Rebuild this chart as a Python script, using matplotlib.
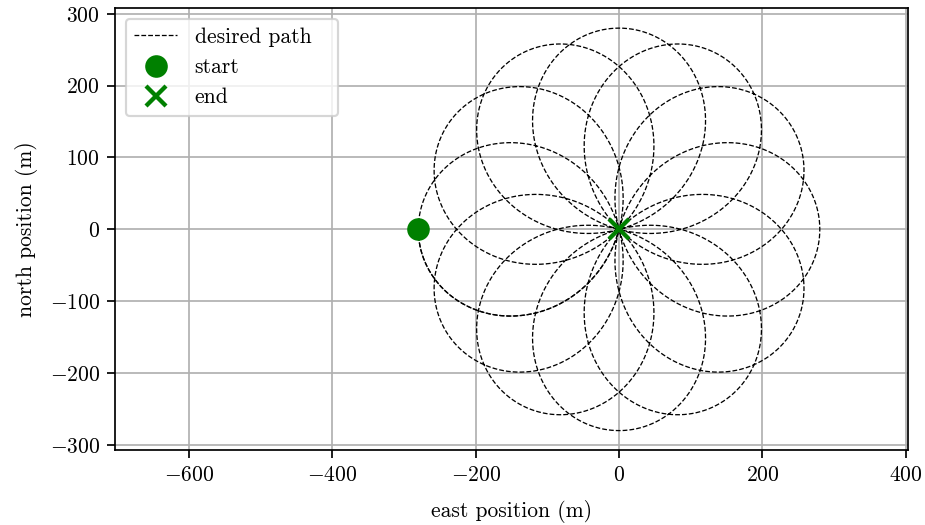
import numpy as np
import matplotlib
matplotlib.use("Agg")
import matplotlib.pyplot as plt

plt.rcParams["font.family"] = "serif"
plt.rcParams["font.serif"] = ["cmr10"]
plt.rcParams["mathtext.fontset"] = "cm"
plt.rcParams["axes.formatter.use_mathtext"] = True

# rose path r = a*cos(k*phi), k = p/q
a = 280.0
p, q = 6, 5
start = (-280.0, 0.0)
end = (0.0, 0.0)
xticks = [-600, -400, -200, 0, 200, 400]
yticks = [-300, -200, -100, 0, 100, 200, 300]

k = p / q
# one full period, then the last half petal back into the origin
phi = np.linspace(0, 2 * np.pi * q, 6000)
phi_end = np.linspace(2 * np.pi * q, 2 * np.pi * q + np.pi / (2 * k), 300)


def rose(t):
    r = a * np.cos(k * t)
    return -r * np.cos(t), -r * np.sin(t)


dpi = 155
fig = plt.figure(figsize=(925 / dpi, 525 / dpi), dpi=dpi)
ax = fig.add_axes([115 / 925, 1 - 450 / 525, 793 / 925, 442 / 525])

ax.plot(*rose(phi), "k--", lw=0.6, label="desired path")
ax.plot(*rose(phi_end), color="k", lw=0.6, ls=(0.6, (3.7, 1.6)))
ax.plot(*start, "o", color="green", ms=9.5, label="start", zorder=3)
ax.plot(*end, "x", color="green", ms=9, mew=2, label="end", zorder=3)

ax.set_xlim(-703, 403)
ax.set_ylim(-307, 308)
ax.set_xticks(xticks)
ax.set_yticks(yticks)
ax.grid(True)
ax.set_axisbelow(True)

ax.set_xlabel("east position (m)", labelpad=7.3)
ax.set_ylabel("north position (m)", labelpad=5.5)
ax.legend(loc="upper left", bbox_to_anchor=(0, 0, 0.2948, 1), mode="expand")

fig.savefig("out.png", dpi=dpi)
